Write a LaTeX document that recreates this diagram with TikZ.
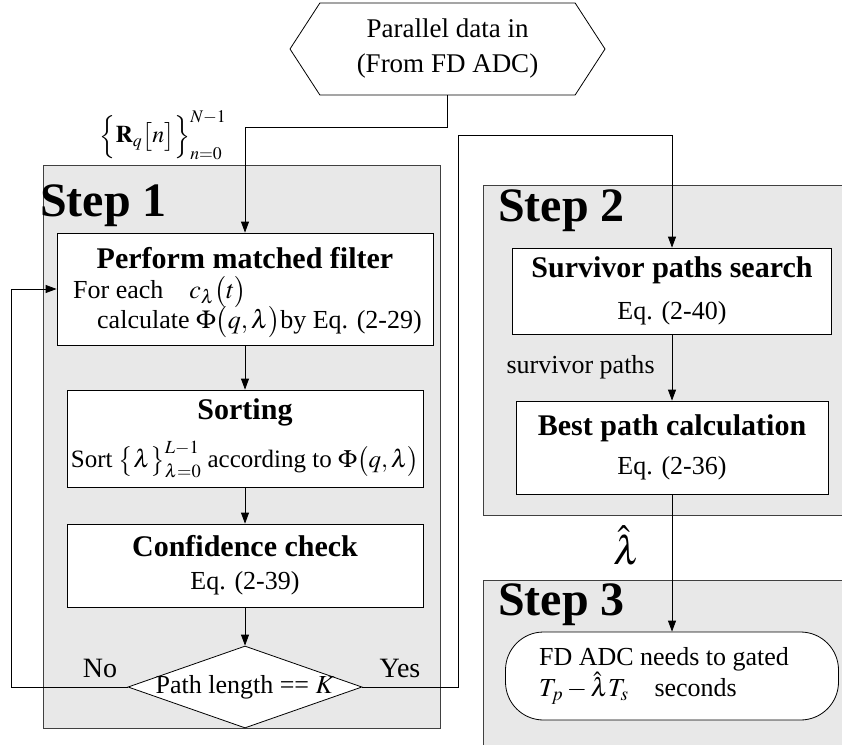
\documentclass[tikz,border=0pt]{standalone}
\usepackage{mathptmx}
\usepackage{fontspec}
\setmainfont{Liberation Serif}
\usetikzlibrary{positioning}
\usetikzlibrary{arrows.meta}
\usetikzlibrary{shapes.geometric, shapes.symbols}

\tikzset{
	stepbox/.style = {draw = black!75, fill = black!9, line width = .6pt, inner sep = 0pt},
	box/.style = {draw, fill = white, line width = .8pt, align = center, inner sep = 0pt},
	txt/.style = {font = \fontsize{26}{30}\selectfont, inner sep = 0pt},
	head/.style = {font = \bfseries\fontsize{30}{32}\selectfont, inner sep = 0pt},
	steptitle/.style = {anchor = west, font = \bfseries\fontsize{48}{50}\selectfont, inner sep = 0pt},
	decision/.style = {diamond, draw, fill = white, line width = .8pt, inner sep = 0pt, aspect = 2.85},
	arr/.style = {-{Triangle[length = 11pt, width = 8pt]}, line width = .8pt}
}

\begin{document}
\begin{tikzpicture}[x = 1pt, y = -1pt]
		\useasboundingbox (0,0) rectangle (842,744);
		
		% containers of the three steps
		\node[stepbox, minimum width = 397pt, minimum height = 563pt] (step1) at (241.5,446.5) {};
		\node[stepbox, minimum width = 365pt, minimum height = 330pt] (step2) at (665.5,350) {};
		\node[stepbox, minimum width = 365pt, minimum height = 170pt] (step3) at (665.5,665) {};
		\node[steptitle] (step1t) at (40,206) {Step 1};
		\node[steptitle] (step2t) at (498,211) {Step 2};
		\node[steptitle] (step3t) at (498,605) {Step 3};
		
		\node[signal, signal to = east and west, signal pointer angle = 114, draw, fill = white, line width = .8pt,
			minimum width = 315pt, minimum height = 92pt, inner sep = 0pt, align = center,
			font = \fontsize{27}{35}\selectfont] (input) at (447.5,49) {Parallel data in\\(From FD ADC)};
		\node[txt, font = \fontsize{24}{28}\selectfont] (rlabel) at (163,135)
			{$\Bigl\{\mathbf{R}_q\bigl[n\bigr]\Bigr\}_{n=0}^{N-1}$};
		
		% step 1
		\node[box, minimum width = 376pt, minimum height = 112pt] (filter) at (245,289) {};
		\node[head] (filtert) at (245,258) {Perform matched filter};
		\node[txt, anchor = west] (filter1) at (73,292) {For each\quad $c_\lambda\bigl(t\bigr)$};
		\node[txt, anchor = west] (filter2) at (97,322) {calculate $\Phi\bigl(q,\lambda\bigr)$by Eq. (2-29)};
		
		\node[box, minimum width = 356pt, minimum height = 97pt] (sort) at (245,438.5)
			{{\bfseries\fontsize{30}{32}\selectfont Sorting}\\[14pt]
			{\fontsize{25}{30}\selectfont Sort $\bigl\{\lambda\bigr\}_{\lambda=0}^{L-1}$ according to $\Phi\bigl(q,\lambda\bigr)$}};
		\node[box, minimum width = 356pt, minimum height = 83pt] (conf) at (245,565.5)
			{{\bfseries\fontsize{30}{32}\selectfont Confidence check}\\[14pt]
			{\fontsize{26}{30}\selectfont Eq. (2-39)}};
		\node[decision, minimum width = 234pt, minimum height = 82pt] (check) at (245,687) {};
		\node[txt] (checkt) at (check) {Path length == $K$};
		\node[txt, font = \fontsize{28}{30}\selectfont] (nolabel) at (100,668) {No};
		\node[txt, font = \fontsize{28}{30}\selectfont] (yeslabel) at (400,668) {Yes};
		
		% step 2
		\node[box, minimum width = 319pt, minimum height = 86pt] (surv) at (672,291)
			{{\bfseries\fontsize{30}{32}\selectfont Survivor paths search}\\[16pt]
			{\fontsize{26}{30}\selectfont Eq. (2-40)}};
		\node[box, minimum width = 312pt, minimum height = 93pt] (best) at (672,447.5)
			{{\bfseries\fontsize{30}{32}\selectfont Best path calculation}\\[14pt]
			{\fontsize{26}{30}\selectfont Eq. (2-36)}};
		
		% step 3
		\node[box, rounded corners = 38pt, minimum width = 333pt, minimum height = 88pt, align = left,
			font = \fontsize{26}{30}\selectfont] (gate) at (672,676)
			{FD ADC needs to gated\hspace*{16pt}\\$T_p-\hat{\lambda}T_s$\quad seconds};
		
		\coordinate (yesup) at (458,135);
		
		\draw[arr] (input.south) -- ++(0,32) -| (filter.north);
		\draw[arr] (filter.south) -- (sort.north);
		\draw[arr] (sort.south) -- (conf.north);
		\draw[arr] (conf.south) -- (check.north);
		\draw[arr] (check.west) -- ++(-116,0) |- (filter.west);
		\draw[arr] (check.east) -| (yesup) -| (surv.north);
		\draw[arr] (surv.south) -- node[txt, left = 17pt] (survlabel) {survivor paths} (best.north);
		\draw[arr] (best.south) -- node[pos = .37, left = 28pt, font = \fontsize{40}{40}\selectfont] (lambdalabel) {$\hat{\lambda}$} (gate.north);
	\end{tikzpicture}
\end{document}
